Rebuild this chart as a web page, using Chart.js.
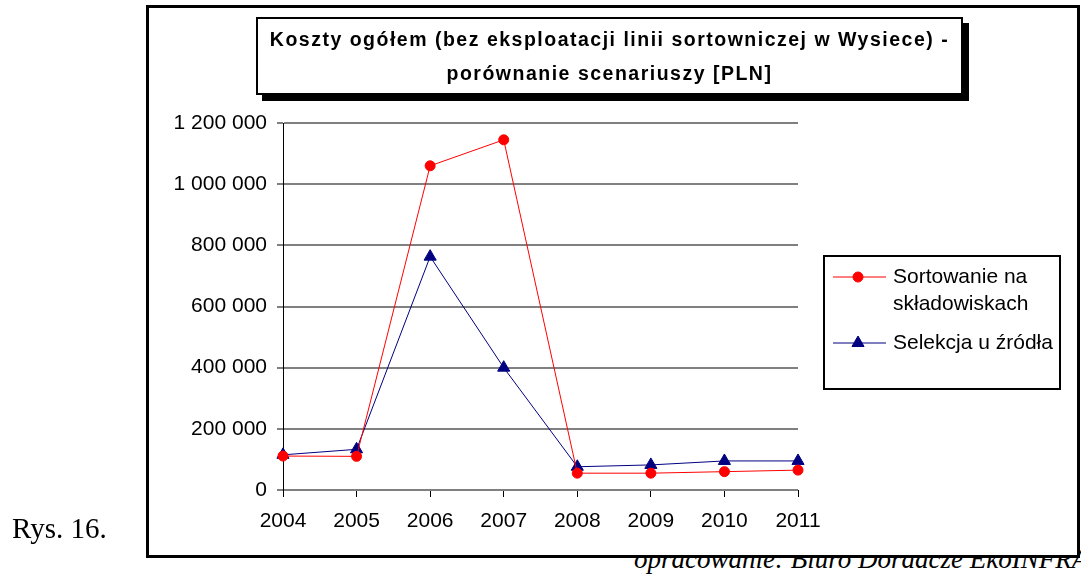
<!DOCTYPE html>
<html>
<head>
<meta charset="utf-8">
<script src="https://cdn.jsdelivr.net/npm/chart.js@4.4.1/dist/chart.umd.min.js"></script>
<style>
  html, body { margin:0; padding:0; background:#fff; width:1081px; height:574px; overflow:hidden; }
  .abs { position:absolute; }
  #footer { left:634px; top:544px; font:italic 27px 'Liberation Serif', serif; line-height:30px; white-space:nowrap; z-index:0; color:#000; }
  #frame { left:146px; top:5px; width:934px; height:553px; box-sizing:border-box; border:3px solid #000; background:#fff; z-index:1; }
  #chart { left:0; top:0; z-index:2; }
  #title { left:256px; top:17px; width:707px; height:78px; box-sizing:border-box; border:2px solid #000; background:#fff;
           box-shadow:6px 6px 0 #000; z-index:3; text-align:center; font:bold 19.5px 'Liberation Sans', Arial, sans-serif;
           line-height:34px; padding-top:3px; letter-spacing:1.5px; white-space:nowrap; }
  #rys { left:12px; top:510px; font:29px 'Liberation Serif', serif; line-height:36px; z-index:3; }
</style>
</head>
<body>
<div id="footer" class="abs">opracowanie: Biuro Doradcze EkoINFRA</div>
<div id="frame" class="abs"></div>
<canvas id="chart" class="abs" width="1081" height="574"></canvas>
<div id="title" class="abs">Koszty ogółem (bez eksploatacji linii sortowniczej w Wysiece) -<br>porównanie scenariuszy [PLN]</div>
<div id="rys" class="abs">Rys. 16.</div>
<script>
// data
const years = ['2004','2005','2006','2007','2008','2009','2010','2011'];
const sortowanie = [111000, 110000, 1060000, 1145000, 55000, 55000, 60000, 65000];
const selekcja = [115000, 133000, 763000, 400000, 76000, 82000, 95000, 95000];
const sortowanieLabel = ['Sortowanie na', 'składowiskach'];
const selekcjaLabel = ['Selekcja u źródła'];

const FONT = "'Liberation Sans', Arial, sans-serif";

function fmt(v){
  return String(v).replace(/\B(?=(\d{3})+(?!\d))/g, ' ');
}

// legend drawn in its own box, right of the plot
const boxLegend = {
  id:'boxLegend',
  afterDraw(chart){
    const ctx = chart.ctx;
    const bx = 824, by = 256, bw = 236, bh = 133;
    ctx.save();
    ctx.fillStyle = '#fff';
    ctx.fillRect(bx, by, bw, bh);
    ctx.strokeStyle = '#000';
    ctx.lineWidth = 2;
    ctx.strokeRect(bx, by, bw, bh);
    ctx.font = '21px ' + FONT;
    ctx.textBaseline = 'middle';
    const rows = [277, 343];
    chart.data.datasets.forEach((ds, i)=>{
      const y = rows[i];
      ctx.strokeStyle = ds.borderColor;
      ctx.lineWidth = 1;
      ctx.beginPath(); ctx.moveTo(833, y); ctx.lineTo(886, y); ctx.stroke();
      ctx.fillStyle = ds.pointBackgroundColor;
      ctx.strokeStyle = ds.pointBorderColor;
      Chart.helpers.drawPoint(ctx, {pointStyle: ds.pointStyle, radius: ds.pointRadius, borderWidth:1, rotation:0}, 858, y);
      ctx.fillStyle = '#000';
      const lines = Array.isArray(ds.label) ? ds.label : [ds.label];
      lines.forEach((t, k)=> ctx.fillText(t, 893, y + k*27));
    });
    ctx.restore();
  }
};

new Chart(document.getElementById('chart'), {
  type:'line',
  data:{
    labels: years,
    datasets:[
      { label: sortowanieLabel, data: sortowanie, borderColor:'#ff0000', borderWidth:1,
        pointStyle:'circle', pointRadius:5, pointBackgroundColor:'#ff0000', pointBorderColor:'#ff0000', pointBorderWidth:1,
        tension:0, clip:false },
      { label: selekcjaLabel, data: selekcja, borderColor:'#000080', borderWidth:1,
        pointStyle:'triangle', pointRadius:7, pointBackgroundColor:'#000080', pointBorderColor:'#000080', pointBorderWidth:1,
        tension:0, clip:false }
    ]
  },
  options:{
    responsive:false,
    animation:false,
    layout:{ padding:{ left:0, top:123, right:283, bottom:0 } },
    plugins:{ legend:{ display:false }, tooltip:{ enabled:false } },
    scales:{
      x:{
        offset:false,
        afterFit(s){ s.height = 574 - 490; },
        grid:{ drawOnChartArea:false, drawTicks:true, color:'#000', lineWidth:1, tickLength:7 },
        border:{ display:false },
        ticks:{ color:'#000', font:{ family:FONT, size:21 }, padding:12, maxRotation:0, autoSkip:false }
      },
      y:{
        min:0, max:1200000,
        afterFit(s){ s.width = 283; },
        grid:{ color:'#808080', lineWidth:2, tickLength:6 },
        border:{ display:true, color:'#000', width:1 },
        ticks:{ stepSize:200000, color:'#000', font:{ family:FONT, size:21 }, padding:10, callback:v=>fmt(v) }
      }
    }
  },
  plugins:[boxLegend]
});
</script>
</body>
</html>
